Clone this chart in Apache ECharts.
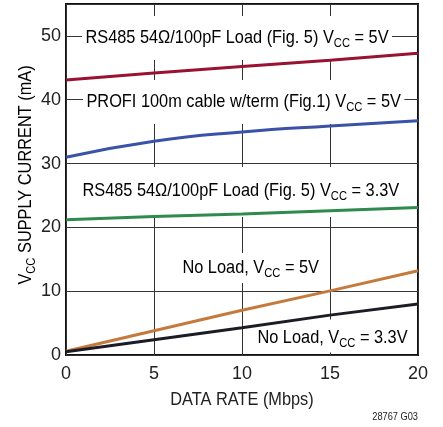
<!DOCTYPE html>
<html><head><meta charset="utf-8">
<script src="https://cdn.jsdelivr.net/npm/echarts@6/dist/echarts.min.js"></script>
<style>html,body{margin:0;padding:0;background:#fff}#c{width:443px;height:427px}</style>
</head><body><div id="c"></div>
<script>
// data
const xTicks = [0, 5, 10, 15, 20];
const yTicks = [0, 10, 20, 30, 40, 50];
const rateLin = [0, 5, 10, 15, 20];
const rs485_5V = [43.1, 44.2, 45.2, 46.2, 47.3];
const rs485_33V = [21.2, 21.7, 22.1, 22.6, 23.1];
const noLoad_5V = [0.6, 3.8, 7.0, 10.05, 13.2];
const noLoad_33V = [0.5, 2.4, 4.27, 6.25, 8.0];
const rateProfi = [0, 5, 10, 15, 20];
const profi_5V = [31.0, 33.5, 34.95, 35.9, 36.7];

const FONT = "'Liberation Sans',Arial,sans-serif";
const SX = 0.86;
const pair = (xs, ys) => xs.map((x, i) => [x, ys[i]]);

const chart = echarts.init(document.getElementById('c'), null, {renderer: 'canvas'});
const rich = {
  n: {fontFamily: FONT, fontSize: 19, color: '#222'},
  s: {fontFamily: FONT, fontSize: 13, color: '#222', padding: [11, 0, 0, 0]}
};
function lbl(parts, left, cy, pad) {
  return {
    type: 'text', x: left, y: cy, scaleX: SX, z: 1,
    style: {
      text: '{n|' + parts[0] + '}{s|CC}{n|' + parts[1] + '}',
      rich: rich, backgroundColor: '#fff', padding: pad,
      align: 'left', verticalAlign: 'middle'
    }
  };
}
const lineSeries = (name, data, color, smooth) => ({
  name: name, type: 'line', data: data, showSymbol: false,
  smooth: smooth || false,
  lineStyle: {color: color, width: 3}, z: 3, animation: false
});
chart.setOption({
  animation: false,
  grid: {left: 66, right: 25, top: 4, bottom: 72, show: true, borderColor: '#111', borderWidth: 2},
  xAxis: {
    type: 'value', min: 0, max: 20, interval: 5,
    axisLine: {show: false}, axisTick: {show: false},
    splitLine: {show: true, lineStyle: {color: '#333', width: 1}},
    axisLabel: {fontFamily: FONT, fontSize: 18, color: '#222', margin: 10}
  },
  yAxis: {
    type: 'value', min: 0, max: 55, interval: 10,
    axisLine: {show: false}, axisTick: {show: false},
    splitLine: {show: true, lineStyle: {color: '#333', width: 1}},
    axisLabel: {fontFamily: FONT, fontSize: 18, color: '#222', margin: 5,
      formatter: v => (yTicks.indexOf(v) >= 0 ? String(v) : '')}
  },
  series: [
    lineSeries('rs485_5V', pair(rateLin, rs485_5V), '#9a1232'),
    lineSeries('profi', pair(rateProfi, profi_5V), '#3a52a8', 0.5),
    lineSeries('rs485_33V', pair(rateLin, rs485_33V), '#2f8a4d'),
    lineSeries('noLoad_5V', pair(rateLin, noLoad_5V), '#c47a3c'),
    lineSeries('noLoad_33V', pair(rateLin, noLoad_33V), '#1c1c26')
  ],
  graphic: [
    lbl(['RS485 54Ω/100pF Load (Fig. 5) V', ' = 5V'], 82, 38, [10, 4, 10, 4]),
    lbl(['PROFI 100m cable w/term (Fig.1) V', ' = 5V'], 83, 102, [10, 4, 10, 4]),
    lbl(['RS485 54Ω/100pF Load (Fig. 5) V', ' = 3.3V'], 79, 192, [12, 4, 14, 4]),
    lbl(['No Load, V', ' = 5V'], 179, 268, [3, 4, 3, 4]),
    lbl(['No Load, V', ' = 3.3V'], 254, 336, [6, 4, 3, 4]),
    {type: 'text', x: 242, y: 400, scaleX: SX,
      style: {text: 'DATA RATE (Mbps)', fontFamily: FONT, fontSize: 19, fill: '#222', align: 'center', verticalAlign: 'middle'}},
    {type: 'text', x: 26, y: 175, scaleX: SX, rotation: Math.PI / 2,
      style: {text: '{n|V}{s|CC}{n| SUPPLY CURRENT (mA)}', rich: rich, align: 'center', verticalAlign: 'middle'}},
    {type: 'text', x: 418, y: 417, scaleX: 0.84,
      style: {text: '28767 G03', fontFamily: FONT, fontSize: 11, fill: '#222', align: 'right', verticalAlign: 'middle'}}
  ]
});
</script></body></html>
